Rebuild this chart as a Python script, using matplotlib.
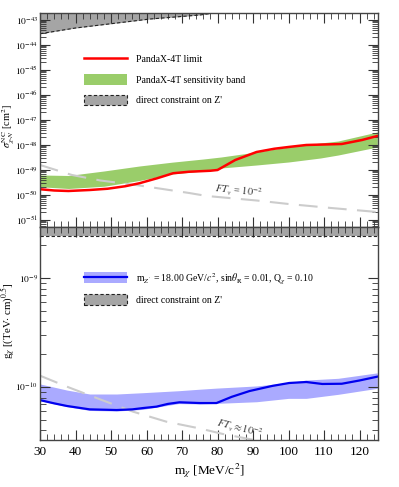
import numpy as np
import matplotlib
matplotlib.use("Agg")
import matplotlib.pyplot as plt
from matplotlib.lines import Line2D
from matplotlib.patches import Patch
from matplotlib.ticker import LogLocator, MultipleLocator, NullFormatter

plt.rcParams['font.family'] = ['Liberation Serif', 'DejaVu Serif']
plt.rcParams['mathtext.fontset'] = 'stix'

# ---------------- data (log10 values) ----------------
# top panel: cross section limit
m_lim = [30, 34, 38, 44, 49, 54, 58, 63, 67.5, 72, 78, 80, 85, 91, 96, 100, 105, 110, 115, 120.7, 125]
log_lim = [-49.77, -49.82, -49.84, -49.80, -49.75, -49.65, -49.53, -49.33, -49.13, -49.07, -49.03,
           -49.0, -48.6, -48.28, -48.15, -48.08, -48.0, -47.98, -47.96, -47.8, -47.64]

m_band = [30, 38, 48, 58, 67, 76, 81, 91, 100, 109, 114, 125]
log_band_hi = [-49.2, -49.22, -49.04, -48.84, -48.69, -48.56, -48.48, -48.28, -48.08, -47.92, -47.84, -47.48]
log_band_lo = [-49.67, -49.74, -49.65, -49.42, -49.16, -49.04, -48.92, -48.8, -48.68, -48.52, -48.4, -48.08]

m_ft = [30, 39, 47, 58, 72, 77, 91, 100, 112, 125]
log_ft = [-48.8, -49.2, -49.42, -49.62, -49.92, -50.04, -50.22, -50.36, -50.52, -50.68]

m_zp = [30, 40, 47, 61, 75, 80, 125]
log_zp = [-43.55, -43.32, -43.2, -42.96, -42.8, -42.7, -42.3]

top_decades = [-51, -50, -49, -48, -47, -46, -45, -44, -43]

# bottom panel: coupling
m_g = [30, 34, 37.6, 44, 51.6, 56, 59, 62.8, 66, 69.3, 75, 79.7, 84, 89, 95.4, 100.2, 105, 109.5, 115, 120, 125]
log_g = [-10.12, -10.15, -10.174, -10.205, -10.211, -10.205, -10.193, -10.18, -10.155, -10.14, -10.147,
         -10.147, -10.09, -10.037, -9.99, -9.963, -9.954, -9.972, -9.97, -9.94, -9.905]

m_gband = [30, 37.6, 44, 51.6, 59, 69, 75, 79.7, 91, 100, 105, 114, 125]
log_g_hi = [-9.972, -10.028, -10.064, -10.064, -10.052, -10.034, -10.02, -10.01, -9.99, -9.96, -9.936, -9.92, -9.87]
log_g_lo = [-10.125, -10.18, -10.215, -10.22, -10.205, -10.152, -10.155, -10.15, -10.135, -10.104, -10.104, -10.067, -10.012]

m_gft = [30, 37.6, 46.9, 56.2, 65.6, 75, 81.4, 91, 96]
log_gft = [-9.896, -9.997, -10.113, -10.226, -10.318, -10.38, -10.43, -10.49, -10.52]

g_zp_edge = -8.615
bot_decades = [-10, -9]

# ---------------- styling ----------------
RED = '#ff0000'
GREEN = '#9acd6a'
GRAY = '#a5a5a5'
BLUE_BAND = '#aaaaff'
BLUE = '#0000ee'
FT_GRAY = '#cccccc'

XLIM = (30, 125.2)
TOP_YLIM = (10 ** -51.28, 10 ** -42.72)
BOT_YLIM = (10 ** -10.486, 10 ** -8.532)

fig = plt.figure(figsize=(3.99, 4.87), dpi=100)
ax1 = fig.add_axes([0.1003, 0.5339, 0.847, 0.4394])
ax2 = fig.add_axes([0.1003, 0.0965, 0.847, 0.4374])


def style_axis(ax, decades):
    ax.set_xlim(*XLIM)
    ax.set_yscale('log')
    ax.xaxis.set_major_locator(MultipleLocator(10))
    ax.xaxis.set_minor_locator(MultipleLocator(2))
    ax.set_yticks([10.0 ** d for d in decades])
    ax.set_yticklabels([r'$10^{%d}$' % d for d in decades])
    ax.yaxis.set_minor_locator(LogLocator(base=10, subs=np.arange(2, 10), numticks=20))
    ax.yaxis.set_minor_formatter(NullFormatter())
    ax.tick_params(which='both', direction='in', top=True, right=True, color='#333333')
    ax.tick_params(axis='x', labelsize=9.5, pad=4)
    ax.tick_params(axis='y', labelsize=6.8, pad=1.5)
    ax.tick_params(which='major', length=7, width=0.8)
    ax.tick_params(which='minor', length=4, width=0.6)
    for s in ax.spines.values():
        s.set_color('#444444')
        s.set_linewidth(1.0)


# ---------------- top panel ----------------
style_axis(ax1, top_decades)
ax1.set_ylim(*TOP_YLIM)
ax1.fill_between(m_zp, 10.0 ** np.array(log_zp), 1e-40, color=GRAY, lw=0)
ax1.plot(m_zp, 10.0 ** np.array(log_zp), color='#222222', ls=(0, (3, 2)), lw=0.8)
ax1.fill_between(m_band, 10.0 ** np.array(log_band_lo), 10.0 ** np.array(log_band_hi),
                 color=GREEN, lw=0)
ax1.plot(m_ft, 10.0 ** np.array(log_ft), color=FT_GRAY, lw=1.5, dashes=(9, 5))
ax1.plot(m_lim, 10.0 ** np.array(log_lim), color=RED, lw=1.8)
ax1.text(86, 10 ** -49.84, r'$FT_v$ = $10^{-2}$', fontsize=7.5, rotation=-6,
         ha='center', va='center', color='#333333')
ax1.tick_params(axis='x', labelbottom=False)
ax1.set_ylabel(r'$\sigma^{\rm NC}_{\chi\text{-}N}$ [cm$^2$]', fontsize=7.5)
ax1.yaxis.set_label_coords(-0.069, 0.47)

h1 = [Line2D([], [], color=RED, lw=1.8),
      Patch(facecolor=GREEN, edgecolor='none'),
      Patch(facecolor=GRAY, edgecolor='#222222', ls=(0, (3, 2)), lw=0.8)]
l1 = ['PandaX-4T limit', 'PandaX-4T sensitivity band', "direct constraint on Z'"]
ax1.legend(h1, l1, loc='upper left', bbox_to_anchor=(0.13, 0.812), frameon=False,
           fontsize=7, handlelength=4.4, handleheight=1.35, labelspacing=1.0,
           handletextpad=1.0, borderpad=0, borderaxespad=0)

# ---------------- bottom panel ----------------
style_axis(ax2, bot_decades)
ax2.set_ylim(*BOT_YLIM)
ax2.fill_between(XLIM, 10 ** g_zp_edge, 1e-7, color=GRAY, lw=0)
ax2.axhline(10 ** g_zp_edge, color='#222222', ls=(0, (3, 2)), lw=0.8)
ax2.fill_between(m_gband, 10.0 ** np.array(log_g_lo), 10.0 ** np.array(log_g_hi),
                 color=BLUE_BAND, lw=0)
ax2.plot(m_gft, 10.0 ** np.array(log_gft), color=FT_GRAY, lw=1.5, dashes=(9, 5))
ax2.plot(m_g, 10.0 ** np.array(log_g), color=BLUE, lw=1.6)
ax2.text(86.3, 10 ** -10.38, r'$FT_v \approx 10^{-2}$', fontsize=7.5, rotation=-14,
         ha='center', va='center', color='#333333')
ax2.set_xlabel(r'm$_\chi$ [MeV/c$^2$]', fontsize=9.5)
ax2.xaxis.set_label_coords(0.5, -0.1)
ax2.set_ylabel(r'g$_\chi$ [(TeV$\cdot$ cm)$^{0.5}$]', fontsize=7.8)
ax2.yaxis.set_label_coords(-0.066, 0.56)

h2 = [(Patch(facecolor=BLUE_BAND, edgecolor='none'), Line2D([], [], color=BLUE, lw=1.6)),
      Patch(facecolor=GRAY, edgecolor='#222222', ls=(0, (3, 2)), lw=0.8)]
l2 = [r"m$_{Z'}$ = 18.00 GeV/$c^2$, sin$\theta_{\rm R}$ = 0.01, Q$_\chi$ = 0.10",
      "direct constraint on Z'"]
ax2.legend(h2, l2, loc='upper left', bbox_to_anchor=(0.13, 0.795), frameon=False,
           fontsize=7, handlelength=4.4, handleheight=1.35, labelspacing=0.9,
           handletextpad=1.0, borderpad=0, borderaxespad=0)

fig.savefig('out.png', dpi=100)
